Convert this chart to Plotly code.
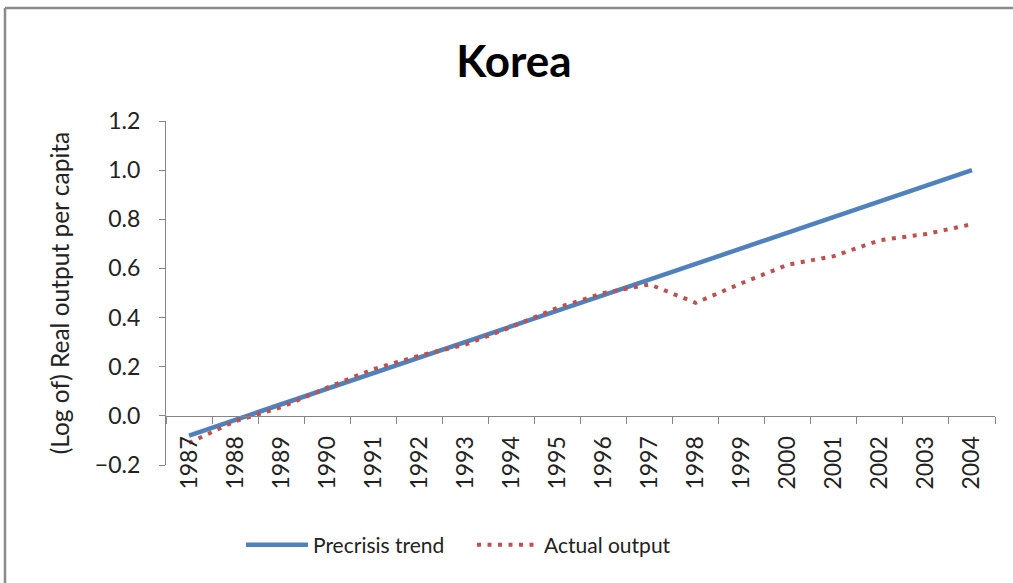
import plotly.graph_objects as go

years = [str(y) for y in range(1987, 2005)]
trend = [-0.08, -0.016, 0.047, 0.11, 0.174, 0.237, 0.301, 0.364, 0.428, 0.491,
         0.555, 0.619, 0.682, 0.746, 0.809, 0.873, 0.936, 1.0]
actual = [-0.11, -0.022, 0.035, 0.115, 0.19, 0.245, 0.29, 0.362, 0.44, 0.50,
          0.535, 0.46, 0.54, 0.615, 0.65, 0.715, 0.74, 0.78]

title_text = "Korea"
y_title = "(Log of) Real output per capita"
y_ticks = [-0.2, 0.0, 0.2, 0.4, 0.6, 0.8, 1.0, 1.2]

FONT = "Lato, 'Noto Sans', sans-serif"
GRAY = "#868686"
TXT = "#222222"

fig = go.Figure()
fig.add_trace(go.Scatter(x=years, y=trend, mode="lines", name="Precrisis trend",
                         line=dict(color="#4F81BD", width=4.5)))
fig.add_trace(go.Scatter(x=years, y=actual, mode="lines", name="Actual output",
                         line=dict(color="#C0504D", width=4, dash="4px,6.5px")))

W, H = 1013, 583
L, R, T, B = 166, 18, 121, 118
pw, ph = W - L - R, H - T - B

def px_x(p):
    return (p - L) / pw

def px_y(p):
    return (H - B - p) / ph

fig.update_layout(
    width=W, height=H,
    margin=dict(l=L, r=R, t=T, b=B, autoexpand=False),
    paper_bgcolor="white", plot_bgcolor="white",
    font=dict(family=FONT, size=21, color=TXT),
    title=dict(text="<b>" + title_text + "</b>", x=514 / W, xref="container", xanchor="center",
               y=1 - 62 / H, yref="container", yanchor="middle",
               font=dict(family=FONT, size=44, color="black")),
    showlegend=True,
    legend=dict(orientation="h", x=px_x(241), xanchor="left", y=px_y(545), yanchor="middle",
                itemwidth=62, font=dict(size=21, color=TXT), bgcolor="rgba(0,0,0,0)",
                traceorder="normal", entrywidth=154),
    xaxis=dict(type="category", categoryorder="array", categoryarray=years,
               range=[-0.5, len(years) - 0.5], anchor="free", position=(0 - (-0.2)) / 1.4,
               showline=True, linecolor=GRAY, linewidth=1.3, ticks="outside", ticklen=7,
               tickcolor=GRAY, tickwidth=1.3, tickson="boundaries", tickangle=-90,
               ticklabelstandoff=10, showgrid=False, zeroline=False,
               tickfont=dict(size=23, color=TXT)),
    yaxis=dict(range=[-0.2, 1.2], tickvals=y_ticks, tickformat=".1f", showline=True,
               linecolor=GRAY, linewidth=1.3, ticks="outside", ticklen=6, tickcolor=GRAY,
               tickwidth=1.3, showgrid=False, zeroline=False, ticklabelstandoff=14,
               tickfont=dict(size=23, color=TXT),
               title=dict(text=y_title, standoff=18, font=dict(size=24.5, color=TXT))),
    shapes=[
        dict(type="line", xref="paper", yref="paper", x0=px_x(5), x1=px_x(W + 5),
             y0=px_y(8), y1=px_y(8), line=dict(color="#8a8a8a", width=2.5), layer="above"),
        dict(type="line", xref="paper", yref="paper", x0=px_x(5), x1=px_x(5),
             y0=px_y(8), y1=px_y(H + 5), line=dict(color="#8a8a8a", width=2.5), layer="above"),
    ],
)

fig.write_html("out.html", config={"displayModeBar": False},
               post_script="document.body.style.margin='0';")
